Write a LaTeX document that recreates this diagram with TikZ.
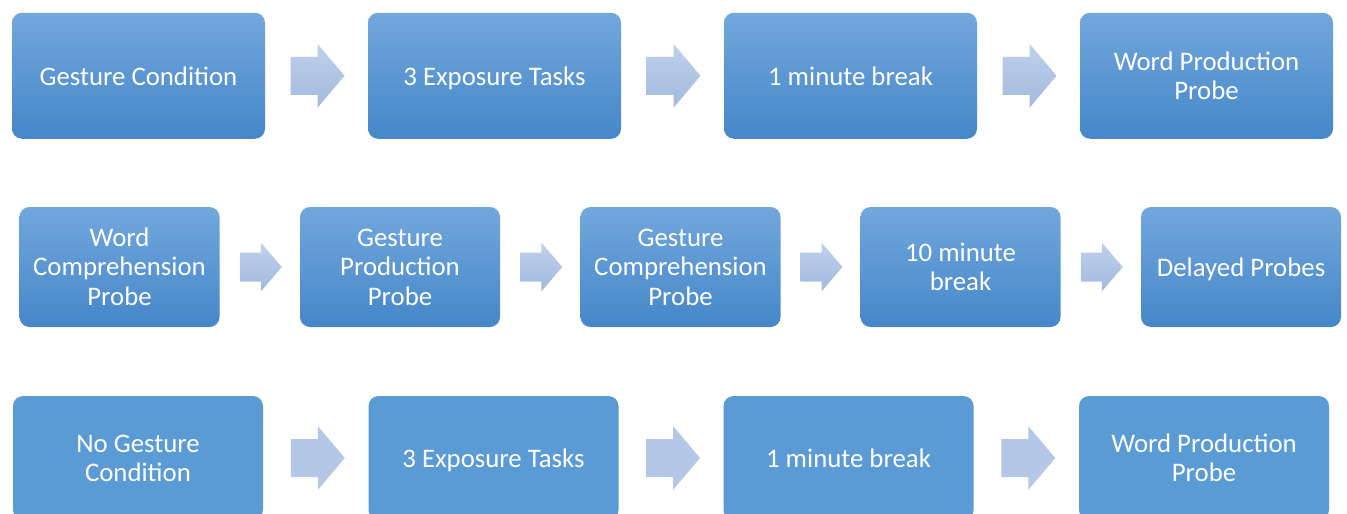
\documentclass[tikz,border=0pt]{standalone}
\usepackage{fontspec}
\setmainfont{Carlito}
\usetikzlibrary{calc}
\definecolor{boxtop}{RGB}{114,167,220}
\definecolor{boxbot}{RGB}{69,135,201}
\definecolor{boxflat}{RGB}{91,155,213}
\definecolor{arrtop}{RGB}{190,209,236}
\definecolor{arrbot}{RGB}{163,185,221}
\definecolor{arrflat}{RGB}{180,199,231}
% strut opening the first line of a multi-line label
\newcommand\firstline{\rule{0pt}{21pt}}
\tikzset{
  basebox/.style={rectangle, rounded corners=10pt, draw=none, text=white,
    align=center, inner sep=0pt, font=\fontsize{26.8}{29.2}\selectfont,
    execute at begin node={\rule{0pt}{23pt}},
    execute at end node={\rule[-3.3pt]{0pt}{3.3pt}}},
  shadedbox/.style={basebox, top color=boxtop, bottom color=boxbot},
  flatbox/.style={basebox, fill=boxflat},
  widebox/.style={minimum width=253pt, minimum height=126pt},
  narrowbox/.style={minimum width=200pt, minimum height=120pt},
  lowbox/.style={minimum width=250pt, minimum height=124pt},
  shadedarrow/.style={top color=arrtop, bottom color=arrbot},
  flatarrow/.style={fill=arrflat},
  bigarrow/.pic={\path[pic actions] (0,-19)--(27,-19)--(27,-32)--(54,0)--(27,32)--(27,19)--(0,19)--cycle;},
  smallarrow/.pic={\path[pic actions] (0,-14.5)--(21,-14.5)--(21,-24.5)--(42,0)--(21,24.5)--(21,14.5)--(0,14.5)--cycle;},
}
\begin{document}
\begin{tikzpicture}[x=1pt,y=-1pt]
\clip (0,0) rectangle (1347,514);

% first row: gesture condition
\node[shadedbox,widebox] (a1) at (138.5,75.75) {Gesture Condition};
\node[shadedbox,widebox] (a2) at (494.5,75.75) {3 Exposure Tasks};
\node[shadedbox,widebox] (a3) at (850.5,75.75) {1 minute break};
\node[shadedbox,widebox] (a4) at (1206.5,75.75) {\firstline Word Production\\Probe};

% second row: probes
\node[shadedbox,narrowbox] (b1) at (119.5,267) {\firstline Word\\Comprehension\\Probe};
\node[shadedbox,narrowbox] (b2) at (400,267) {\firstline Gesture\\Production\\Probe};
\node[shadedbox,narrowbox] (b3) at (680.5,267) {\firstline Gesture\\Comprehension\\Probe};
\node[shadedbox,narrowbox] (b4) at (960.5,267) {\firstline 10 minute\\break};
\node[shadedbox,narrowbox] (b5) at (1241,267) {Delayed Probes};

% third row: no gesture condition
\node[flatbox,lowbox] (c1) at (138,458) {\firstline No Gesture\\Condition};
\node[flatbox,lowbox] (c2) at (493.5,458) {3 Exposure Tasks};
\node[flatbox,lowbox] (c3) at (848.5,458) {1 minute break};
\node[flatbox,lowbox] (c4) at (1204,458) {\firstline Word Production\\Probe};

% block arrows between the steps
\foreach \p/\q in {a1/a2,a2/a3,a3/a4}
  \pic[shadedarrow] at ($(\p.east)!0.5!(\q.west)+(-26,0)$) {bigarrow};
\foreach \p/\q in {b1/b2,b2/b3,b3/b4,b4/b5}
  \pic[shadedarrow] at ($(\p.east)!0.5!(\q.west)+(-20,0)$) {smallarrow};
\foreach \p/\q in {c1/c2,c2/c3,c3/c4}
  \pic[flatarrow] at ($(\p.east)!0.5!(\q.west)+(-25,0)$) {bigarrow};
\end{tikzpicture}
\end{document}
